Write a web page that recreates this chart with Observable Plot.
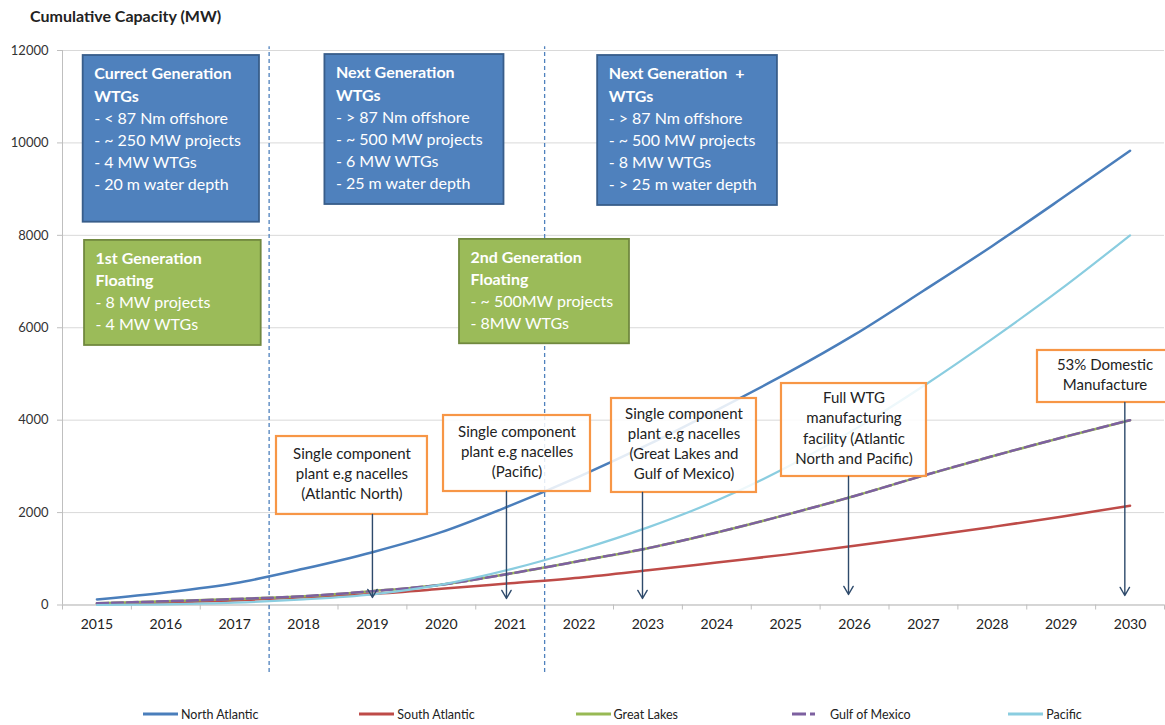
<!DOCTYPE html>
<html><head><meta charset="utf-8">
<script src="https://cdn.jsdelivr.net/npm/d3@7"></script>
<script src="https://cdn.jsdelivr.net/npm/@observablehq/plot@0.6"></script>
<style>
body{margin:0;background:#fff;font-family:Lato,"Open Sans",sans-serif;}
#wrap{position:relative;width:1165px;height:725px;overflow:hidden;background:#fff;}
#title{position:absolute;left:30px;top:6px;font-weight:bold;font-size:16px;color:#222;}
#legend{position:absolute;left:0;top:704px;width:1165px;height:20px;}
.item{position:absolute;top:0;height:20px;display:flex;align-items:center;font-size:12.5px;color:#222;white-space:nowrap;}
.item svg{margin-right:3px;}
</style></head><body>
<div id="wrap"><div id="chart"></div><div id="title">Cumulative Capacity (MW)</div><div id="legend"></div></div>
<script>
// ---- data ----
const years = [2015,2016,2017,2018,2019,2020,2021,2022,2023,2024,2025,2026,2027,2028,2029,2030];
const seriesNames = ["North Atlantic","South Atlantic","Great Lakes","Gulf of Mexico","Pacific"];
const northAtlantic = [120,270,470,783,1143,1576,2150,2780,3470,4220,5000,5850,6800,7770,8790,9830];
const southAtlantic = [25,55,100,165,240,350,470,590,750,920,1090,1280,1480,1690,1910,2150];
const greatLakes    = [40,80,130,190,300,440,680,950,1230,1570,1950,2360,2800,3220,3620,4000];
const gulfOfMexico  = [40,80,130,190,300,440,680,950,1230,1570,1950,2360,2800,3220,3620,4000];
const pacific       = [0,15,50,120,230,440,770,1190,1680,2260,2970,3800,4740,5760,6840,8000];
const yTicks = [0,2000,4000,6000,8000,10000,12000];
const xTickLabels = years;
const phaseBoundaries = [2017.5, 2021.5];

// annotation boxes (data units: years, MW)
const wtgBoxes = [
  {x1:2014.80,x2:2017.36,y1:8284,y2:11892,header:"Currect Generation\nWTGs",body:"- < 87 Nm offshore\n- ~ 250 MW projects\n- 4 MW WTGs\n- 20 m water depth"},
  {x1:2018.31,x2:2020.91,y1:8667,y2:11913,header:"Next Generation\nWTGs",body:"- > 87 Nm offshore\n- ~ 500 MW projects\n- 6 MW WTGs\n- 25 m water depth"},
  {x1:2022.27,x2:2024.88,y1:8646,y2:11892,header:"Next Generation  +\nWTGs",body:"- > 87 Nm offshore\n- ~ 500 MW projects\n- 8 MW WTGs\n- > 25 m water depth"}
];
const floatingBoxes = [
  {x1:2014.82,x2:2017.385,y1:5616,y2:7890,header:"1st Generation\nFloating",body:"- 8 MW projects\n- 4 MW WTGs"},
  {x1:2020.264,x2:2022.732,y1:5653,y2:7912,header:"2nd Generation\nFloating",body:"- ~ 500MW projects\n- 8MW WTGs"}
];
const callouts = [
  {x1:2017.607,x2:2019.799,y1:1959,y2:3646,text:"Single component\nplant e.g nacelles\n(Atlantic North)",ax:2019.0,aTo:162},
  {x1:2020.032,x2:2022.166,y1:2456,y2:4101,text:"Single component\nplant e.g nacelles\n(Pacific)",ax:2020.946,aTo:141},
  {x1:2022.471,x2:2024.576,y1:2435,y2:4469,text:"Single component\nplant e.g nacelles\n(Great Lakes and\nGulf of Mexico)",ax:2022.921,aTo:141},
  {x1:2024.939,x2:2027.044,y1:2781,y2:4793,text:"Full WTG\nmanufacturing\nfacility (Atlantic\nNorth and Pacific)",ax:2025.912,aTo:227},
  {x1:2028.656,x2:2030.616,y1:4382,y2:5508,text:"53% Domestic\nManufacture",ax:2029.924,aTo:206}
];

// ---- build ----
const seriesValues = [northAtlantic,southAtlantic,greatLakes,gulfOfMexico,pacific];
const colors = ["#4A7EBB","#BE4B48","#98B954","#7D60A0","#8ACDE0"];
const rows = seriesNames.map((name,k)=>years.map((yr,i)=>({series:name,year:yr,value:seriesValues[k][i]})));
const boundaries = d3.range(2014.5, 2031, 1);

const lineMarks = rows.map((data,k)=>{
  const name = seriesNames[k];
  const opts = {x:"year",y:"value",stroke:colors[k],strokeWidth:name==="Pacific"?2.2:2.5,curve:"monotone-x"};
  if (name==="Gulf of Mexico") opts.strokeDasharray = "11,4";
  return Plot.line(data, opts);
});

const chart = Plot.plot({
  width:1165, height:690,
  marginLeft:62, marginRight:1, marginTop:50, marginBottom:85.5,
  x:{domain:[2014.5,2030.5], label:null},
  y:{domain:[0,12000], label:null},
  style:{fontFamily:"Lato, 'Open Sans', sans-serif", fontSize:"13px", background:"white", overflow:"visible"},
  marks:[
    Plot.gridY({ticks:yTicks, stroke:"#d9d9d9", strokeOpacity:1}),
    Plot.ruleX([2014.5],{y1:0,y2:12000,stroke:"#bfbfbf"}),
    Plot.ruleY([0],{stroke:"#bfbfbf"}),
    Plot.axisY({ticks:yTicks, tickSize:5, tickPadding:9, tickFormat:d=>String(d), stroke:"#bfbfbf", fill:"#333", fontSize:13, label:null}),
    Plot.axisX({ticks:boundaries, tickSize:5, tickFormat:()=>"", stroke:"#bfbfbf", label:null}),
    Plot.axisX({ticks:xTickLabels, tickSize:0, tickPadding:14, tickFormat:d=>String(d), fill:"#222", fontSize:14, label:null}),
    Plot.ruleX(phaseBoundaries,{y1:-1460,y2:12080,stroke:"#4F81BD",strokeDasharray:"4,3",strokeWidth:1.3}),
    ...lineMarks,
    Plot.rect(callouts,{x1:"x1",x2:"x2",y1:"y1",y2:"y2",fill:"white",fillOpacity:0.85,stroke:"#F79646",strokeWidth:2.2}),
    Plot.text(callouts,{x:d=>(d.x1+d.x2)/2,y:d=>(d.y1+d.y2)/2,text:"text",lineAnchor:"middle",dy:-3,fontSize:15,lineHeight:1.35,fill:"#222"}),
    Plot.arrow(callouts,{x1:"ax",x2:"ax",y1:"y1",y2:"aTo",stroke:"#2E4A6B",strokeWidth:1.4,headLength:10}),
    Plot.rect(wtgBoxes,{x1:"x1",x2:"x2",y1:"y1",y2:"y2",fill:"#4F81BD",stroke:"#385D8A",strokeWidth:1.8}),
    Plot.text(wtgBoxes,{x:"x1",y:"y2",text:"header",textAnchor:"start",lineAnchor:"top",dx:11,dy:8,fill:"white",fontWeight:"bold",fontSize:16,lineHeight:1.39}),
    Plot.text(wtgBoxes,{x:"x1",y:"y2",text:"body",textAnchor:"start",lineAnchor:"top",dx:11,dy:52.4,fill:"white",fontSize:16,lineHeight:1.39}),
    Plot.rect(floatingBoxes,{x1:"x1",x2:"x2",y1:"y1",y2:"y2",fill:"#9BBB59",stroke:"#71893F",strokeWidth:1.8}),
    Plot.text(floatingBoxes,{x:"x1",y:"y2",text:"header",textAnchor:"start",lineAnchor:"top",dx:11,dy:7.5,fill:"white",fontWeight:"bold",fontSize:16,lineHeight:1.39}),
    Plot.text(floatingBoxes,{x:"x1",y:"y2",text:"body",textAnchor:"start",lineAnchor:"top",dx:11,dy:51.9,fill:"white",fontSize:16,lineHeight:1.39})
  ]
});
document.getElementById("chart").appendChild(chart);

// legend
const legend = document.getElementById("legend");
seriesNames.forEach((name,k)=>{
  const item = document.createElement("div");
  item.className = "item";
  item.style.left = (143 + k*216.3) + "px";
  const dash = name==="Gulf of Mexico" ? ' stroke-dasharray="14,4,5,20"' : '';
  item.innerHTML = `<svg width="35" height="6"><line x1="0" y1="3" x2="35" y2="3" stroke="${colors[k]}" stroke-width="3"${dash}/></svg><span>${name}</span>`;
  legend.appendChild(item);
});
</script>
</body></html>
